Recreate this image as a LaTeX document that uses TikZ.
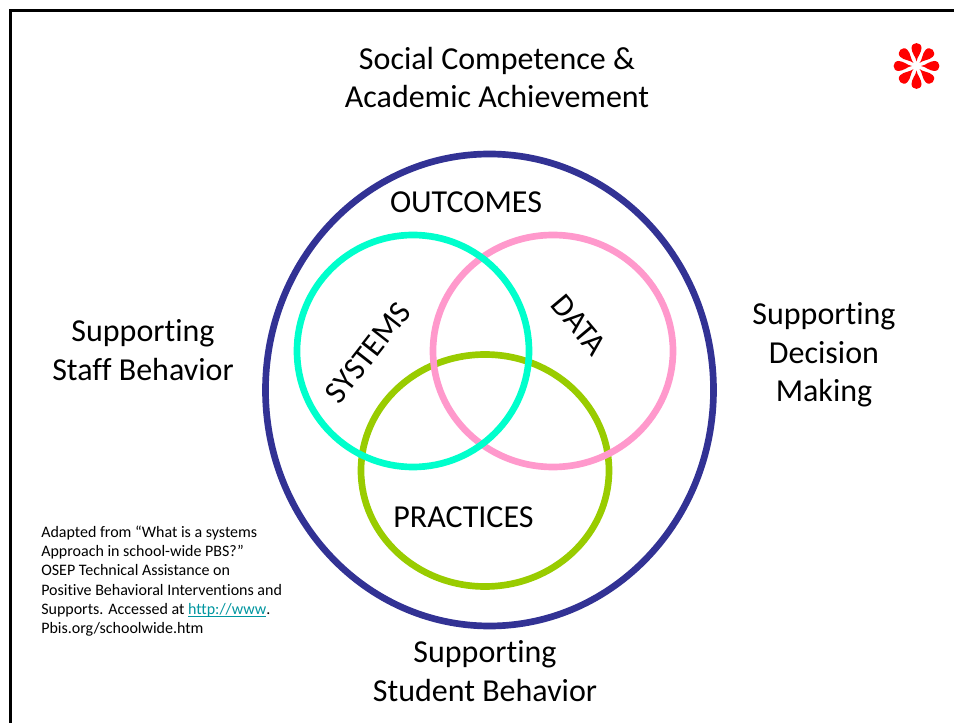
\documentclass[tikz,border=0pt]{standalone}
\usepackage{fontspec}
\setmainfont[Ligatures=NoCommon]{Carlito}
\definecolor{navyring}{RGB}{50,50,148}
\definecolor{cyanring}{RGB}{0,255,204}
\definecolor{pinkring}{RGB}{255,153,204}
\definecolor{greenring}{RGB}{153,204,0}
\definecolor{linkcol}{RGB}{0,150,160}
\newlength{\linkwd}
\tikzset{
  ring/.style={line width=5pt},
  big/.style={font=\fontsize{24}{29}\selectfont, align=center, text=black, inner sep=0pt},
  small/.style={font=\fontsize{12}{14.5}\selectfont, align=left, anchor=north west, text=black, inner sep=0pt},
  petal/.style={fill=red, draw=none}
}
\begin{document}
\begin{tikzpicture}[x=0.75pt,y=-0.75pt]
\useasboundingbox (0,0) rectangle (954,723);
\fill[white] (0,0) rectangle (954,723);
\draw[line width=2.2pt,black] (10.5,730) -- (10.5,10.5) -- (960,10.5);
\draw[ring,navyring] (489.5,390) ellipse [x radius=224, y radius=236];
\draw[ring,greenring] (485,470.5) ellipse [x radius=124, y radius=116];
\draw[ring,pinkring] (553,351) ellipse [x radius=120, y radius=116];
\draw[ring,cyanring] (413,351) ellipse [x radius=116, y radius=116];
\node[big] (title) at (497,77.5) {Social Competence \&\\Academic Achievement};
\node[big] (outcomes) at (466,202) {OUTCOMES};
\node[big,rotate=52] (systems) at (368,352.5) {SYSTEMS};
\node[big,rotate=-50] (data) at (579,325) {DATA};
\node[big] (practices) at (463.5,517) {PRACTICES};
\node[big] (staff) at (143,350) {Supporting\\Staff Behavior};
\node[big] (decision) at (824,355) {Supporting\\Decision\\Making};
\node[big] (student) at (485,671) {Supporting\\Student Behavior};
\node[small] (note) at (41,525.5) {Adapted from “What is a systems\\Approach in school-wide PBS?”\\OSEP Technical Assistance on\\Positive Behavioral Interventions and\\Supports. Accessed at \settowidth{\linkwd}{http://www}\textcolor{linkcol}{\rlap{\rule[-1.8pt]{\linkwd}{0.8pt}}http://www}.\\Pbis.org/schoolwide.htm};
\foreach \a in {0,45,...,315}{
  \fill[petal,shift={(916.5,66)},rotate=\a] (4.5,0) .. controls (9,-0.5) and (13,-5) .. (18,-5) .. controls (24.5,-5) and (24.5,5) .. (18,5) .. controls (13,5) and (9,0.5) .. (4.5,0) -- cycle;
}
\end{tikzpicture}
\end{document}
